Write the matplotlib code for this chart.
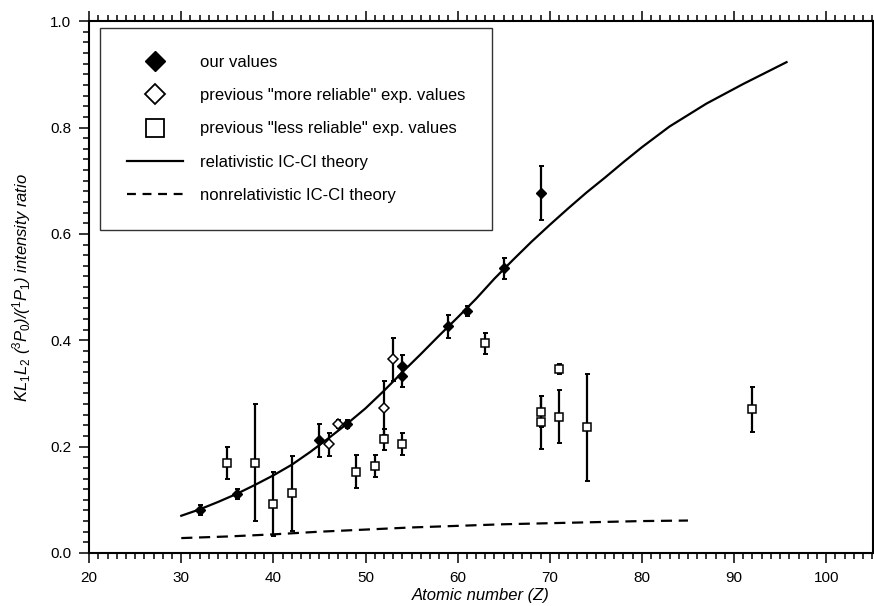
import numpy as np
import matplotlib
matplotlib.use("Agg")
import matplotlib.pyplot as plt
from matplotlib.lines import Line2D
from matplotlib.ticker import MultipleLocator

plt.rcParams["font.family"] = ["Liberation Sans", "DejaVu Sans"]
plt.rcParams["mathtext.fontset"] = "custom"
plt.rcParams["mathtext.rm"] = "Liberation Sans"
plt.rcParams["mathtext.it"] = "Liberation Sans:italic"

# our values (filled diamonds)
our_z = [32, 36, 45, 48, 54, 54, 59, 61, 65, 69]
our_r = [0.081, 0.111, 0.212, 0.243, 0.351, 0.333, 0.426, 0.455, 0.535, 0.677]
our_e = [0.010, 0.010, 0.031, 0.008, 0.022, 0.020, 0.021, 0.010, 0.020, 0.051]

# previous "more reliable" exp. values (open diamonds)
more_z = [46, 47, 52, 53]
more_r = [0.204, 0.243, 0.273, 0.364]
more_e = [0.021, 0.008, 0.051, 0.040]

# previous "less reliable" exp. values (open squares)
less_z = [35, 38, 40, 42, 49, 51, 52, 54, 63, 69, 69, 71, 71, 74, 92]
less_r = [0.170, 0.170, 0.092, 0.112, 0.153, 0.164, 0.214, 0.205, 0.394,
          0.266, 0.246, 0.346, 0.256, 0.236, 0.270]
less_e = [0.030, 0.110, 0.060, 0.070, 0.031, 0.021, 0.020, 0.021, 0.020,
          0.030, 0.050, 0.010, 0.050, 0.101, 0.042]

# relativistic IC-CI theory
rel_z = [30, 32, 34, 36, 38, 40, 42, 44, 46, 48, 50, 52, 54, 56, 58, 60,
         62, 64, 66, 68, 70, 72, 74, 76, 78, 80, 83, 87, 91, 95.7]
rel_r = [0.070, 0.082, 0.096, 0.111, 0.128, 0.146, 0.166, 0.190, 0.216,
         0.243, 0.272, 0.305, 0.340, 0.374, 0.409, 0.443, 0.478, 0.516,
         0.551, 0.585, 0.617, 0.648, 0.678, 0.706, 0.735, 0.763, 0.802,
         0.845, 0.882, 0.923]

# nonrelativistic IC-CI theory (dashed curve)
nonrel_z = [30, 35, 40, 45, 50, 55, 60, 65, 70, 75, 80, 85]
nonrel_r = [0.028, 0.031, 0.035, 0.040, 0.044, 0.048, 0.051, 0.054,
            0.056, 0.058, 0.060, 0.061]

fig = plt.figure(figsize=(8.74, 6.06), dpi=100)
ax = fig.add_axes([0.102, 0.0875, 0.897, 0.8775])

ax.plot(rel_z, rel_r, "k-", lw=1.6, solid_joinstyle="round")
ax.plot(nonrel_z, nonrel_r, "k--", lw=1.6, dashes=(5, 3))

eb = dict(fmt="none", ecolor="k", elinewidth=1.6, capsize=1.8, capthick=1.4)
ax.errorbar(less_z, less_r, yerr=less_e, **eb)
ax.errorbar(more_z, more_r, yerr=more_e, **eb)
ax.errorbar(our_z, our_r, yerr=our_e, **eb)
ax.plot(less_z, less_r, "s", ms=6, mfc="white", mec="k", mew=1.1, ls="none")
ax.plot(more_z, more_r, "D", ms=5.5, mfc="white", mec="k", mew=1.1, ls="none")
ax.plot(our_z, our_r, "D", ms=5.5, mfc="k", mec="k", ls="none")

ax.set_xlim(20, 105.1)
ax.set_ylim(0, 1.0)
ax.xaxis.set_major_locator(MultipleLocator(10))
ax.xaxis.set_minor_locator(MultipleLocator(1))
ax.yaxis.set_major_locator(MultipleLocator(0.2))
ax.yaxis.set_minor_locator(MultipleLocator(0.02))
ax.yaxis.set_major_formatter(matplotlib.ticker.FormatStrFormatter("%.1f"))
ax.tick_params(which="both", direction="out", top=True, right=True,
               labelsize=11, width=1.1, pad=6)
ax.tick_params(which="major", length=7)
ax.tick_params(which="minor", length=4)
for s in ax.spines.values():
    s.set_linewidth(1.5)

ax.set_xlabel("Atomic number (Z)", fontsize=12, style="italic", labelpad=2)
ax.set_ylabel(r"$KL_1L_2$ ($^3P_0$)/($^1P_1$) intensity ratio",
              fontsize=12, style="italic", labelpad=12)

handles = [
    Line2D([], [], ls="none", marker="D", ms=10, mfc="k", mec="k"),
    Line2D([], [], ls="none", marker="D", ms=10, mfc="white", mec="k", mew=1.3),
    Line2D([], [], ls="none", marker="s", ms=13, mfc="white", mec="k", mew=1.3),
    Line2D([], [], color="k", lw=1.6),
    Line2D([], [], color="k", lw=1.6, ls="--", dashes=(4, 3)),
]
labels = ["our values", 'previous "more reliable" exp. values',
          'previous "less reliable" exp. values', "relativistic IC-CI theory",
          "nonrelativistic IC-CI theory"]
leg = ax.legend(handles, labels, loc="upper left", bbox_to_anchor=(0.014, 0.987),
                fontsize=12, frameon=True, fancybox=False, edgecolor="k",
                handlelength=3.4, handletextpad=1.0, labelspacing=1.1,
                borderpad=1.6, borderaxespad=0)
leg.get_frame().set_linewidth(1.0)

fig.savefig("out.png", dpi=100)
